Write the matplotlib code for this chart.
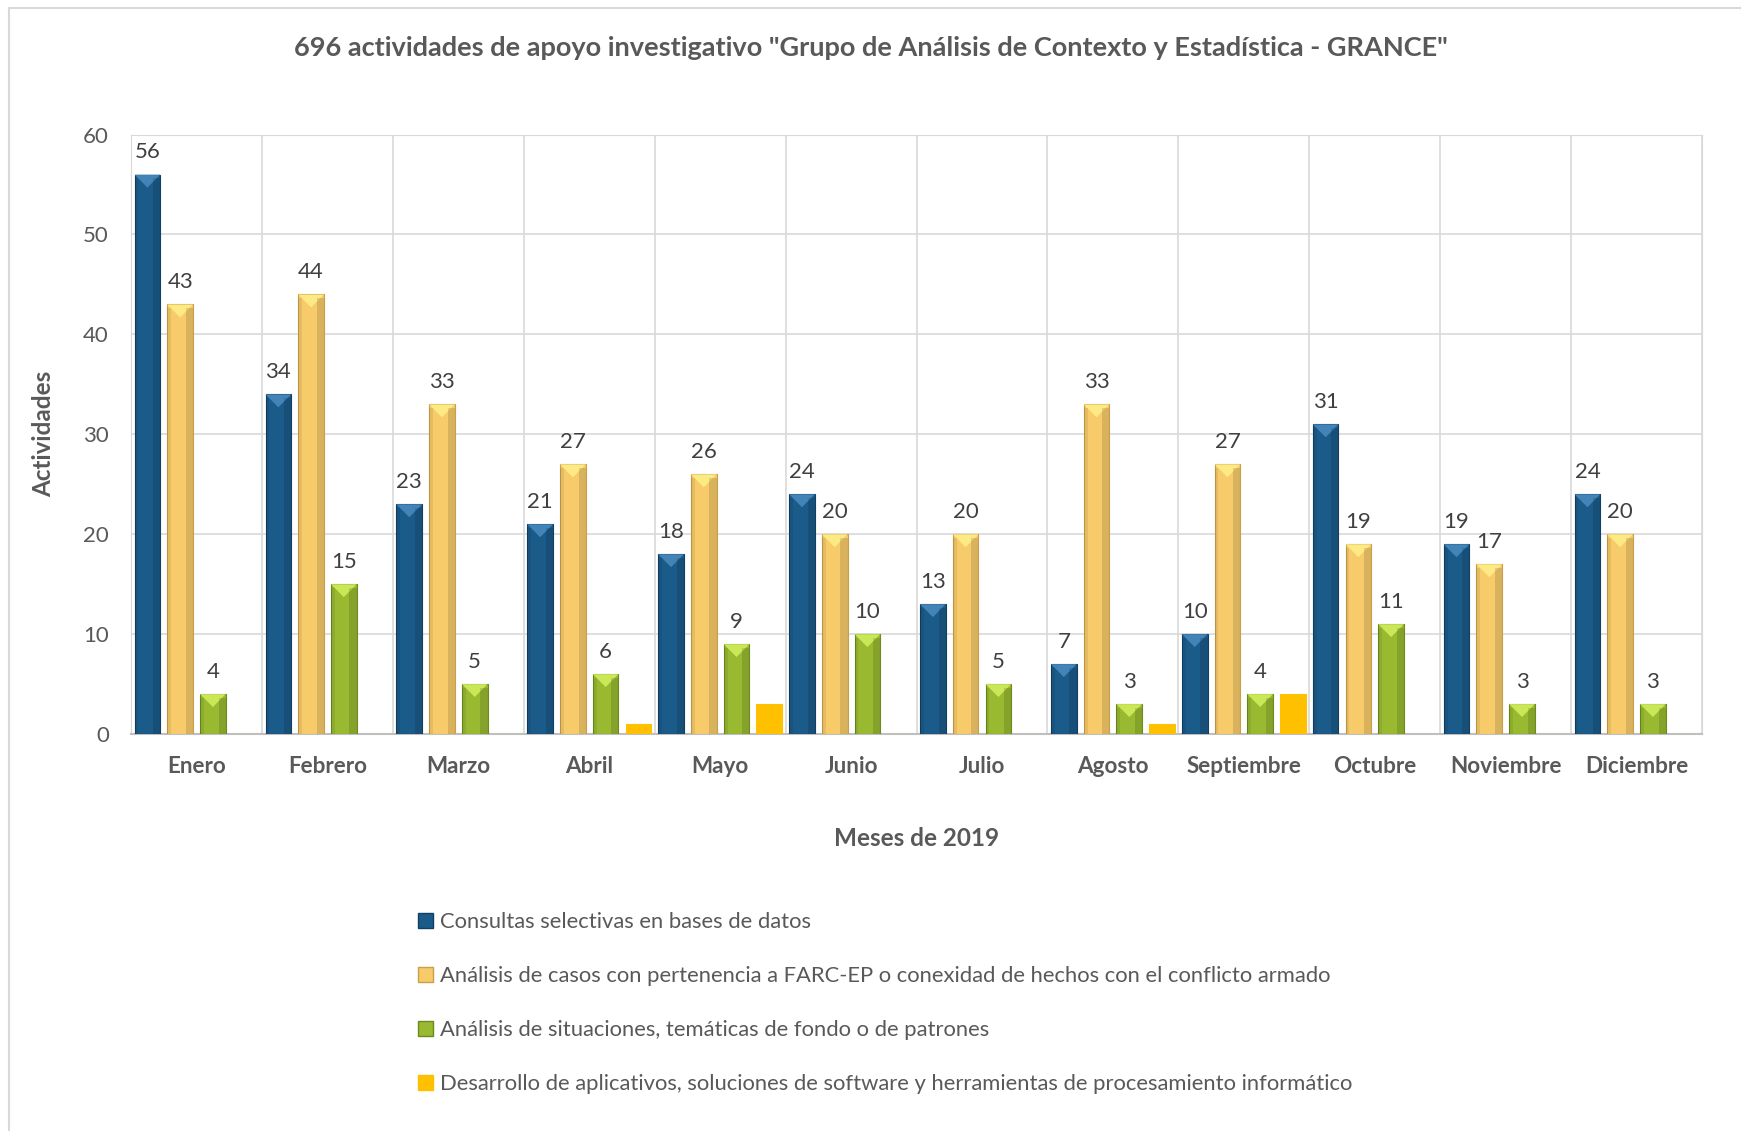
import numpy as np
import matplotlib
matplotlib.use('Agg')
import matplotlib.pyplot as plt
from matplotlib.patches import Polygon, Rectangle

plt.rcParams['font.family'] = ['Lato', 'DejaVu Sans']

######################################################
# Data
meses = ['Enero', 'Febrero', 'Marzo', 'Abril', 'Mayo', 'Junio', 'Julio',
         'Agosto', 'Septiembre', 'Octubre', 'Noviembre', 'Diciembre']
consultas = [56, 34, 23, 21, 18, 24, 13, 7, 10, 31, 19, 24]
analisis_farc = [43, 44, 33, 27, 26, 20, 20, 33, 27, 19, 17, 20]
situaciones = [4, 15, 5, 6, 9, 10, 5, 3, 4, 11, 3, 3]
desarrollo = [0, 0, 0, 1, 3, 0, 0, 1, 4, 0, 0, 0]

series_names = ['Consultas selectivas en bases de datos',
                'Análisis de casos con pertenencia a FARC-EP o conexidad de hechos con el conflicto armado',
                'Análisis de situaciones, temáticas de fondo o de patrones',
                'Desarrollo de aplicativos, soluciones de software y herramientas de procesamiento informático']
series_colors = ['#1B5B8A', '#F8CB6A', '#98B930', '#FFC000']
edge_colors = ['#123F62', '#C9A04A', '#6E8A1E', '#FFC000']
top_colors = ['#4A8CC0', '#FFF08A', '#D4F060', '#FFC000']
show_labels = [True, True, True, False]
all_series = [consultas, analisis_farc, situaciones, desarrollo]

######################################################
fig = plt.figure(figsize=(17.41, 11.31), dpi=100)
ax = fig.add_axes([0.0753, 0.351, 0.9023, 0.530])

# outer chart border
fig.patches.append(Rectangle((0.0052, -0.01), 1.0, 1.003, transform=fig.transFigure,
                             fill=False, edgecolor='#D9D9D9', linewidth=1.5))

x = np.arange(len(meses))
width = 0.196
offsets = [-0.375, -0.125, 0.125, 0.375]

for vals, name, col, ecol, tcol, off, lab in zip(all_series, series_names, series_colors,
                                                  edge_colors, top_colors, offsets, show_labels):
    bars = ax.bar(x + off, vals, width, color=col, edgecolor=ecol, linewidth=0.8,
                  label=name, zorder=3)
    for b, v in zip(bars, vals):
        if v == 0:
            continue
        x0, w, h = b.get_x(), b.get_width(), b.get_height()
        if ecol != col:
            # bevel highlight on top
            d = min(1.3, h * 0.5)
            ax.add_patch(Polygon([[x0, h], [x0 + w, h], [x0 + w / 2, h - d]],
                                 closed=True, facecolor=tcol, edgecolor='none',
                                 alpha=0.85, zorder=4))
            # side shading
            ax.add_patch(Rectangle((x0 + w * 0.72, 0), w * 0.28, h - d * 0.3,
                                   facecolor='black', alpha=0.12, edgecolor='none', zorder=4))
            ax.add_patch(Rectangle((x0, 0), w * 0.15, h - d * 0.3,
                                   facecolor='black', alpha=0.07, edgecolor='none', zorder=4))
        if lab:
            ax.annotate(str(v), (b.get_x() + w / 2, h), xytext=(0, 9),
                        textcoords='offset points', ha='center', va='bottom',
                        fontsize=16, color='#404040')

ax.set_xlim(-0.5, len(meses) - 0.5)
ax.set_ylim(0, 60)
ax.set_yticks(range(0, 61, 10))
ax.set_xticks(x)
ax.set_xticklabels(meses, fontsize=16.2, fontweight='bold', color='#595959')
ax.tick_params(axis='y', labelsize=16, labelcolor='#595959', length=0, pad=16)
ax.tick_params(axis='x', length=0, pad=16)

ax.set_xticks(np.arange(-0.5, len(meses), 1), minor=True)
ax.tick_params(axis='x', which='minor', length=0)
ax.grid(axis='y', color='#D9D9D9', linewidth=1.2, zorder=0)
ax.grid(axis='x', which='minor', color='#D9D9D9', linewidth=1.2, zorder=0)
ax.grid(axis='x', which='major', visible=False)
for s in ['top', 'right', 'left']:
    ax.spines[s].set_color('#D9D9D9')
ax.spines['bottom'].set_color('#BFBFBF')
ax.spines['bottom'].set_linewidth(1.5)

ax.set_xlabel('Meses de 2019', fontsize=17.5, fontweight='bold', color='#595959', labelpad=36)
ax.set_ylabel('Actividades', fontsize=17.5, fontweight='bold', color='#595959', labelpad=20)
fig.text(0.5, 0.958, '696 actividades de apoyo investigativo "Grupo de Análisis de Contexto y Estadística - GRANCE"',
         ha='center', va='center', fontsize=19.5, fontweight='bold', color='#595959')

handles = [Rectangle((0, 0), 1, 1, facecolor=c, edgecolor=e) for c, e in zip(series_colors, edge_colors)]
fig.legend(handles, series_names, loc='upper left', bbox_to_anchor=(0.235, 0.201),
           frameon=False, fontsize=15.8, labelcolor='#595959', handlelength=0.7, handleheight=0.7,
           handletextpad=0.3, labelspacing=1.55, borderaxespad=0)

fig.savefig('out.png', dpi=100)
